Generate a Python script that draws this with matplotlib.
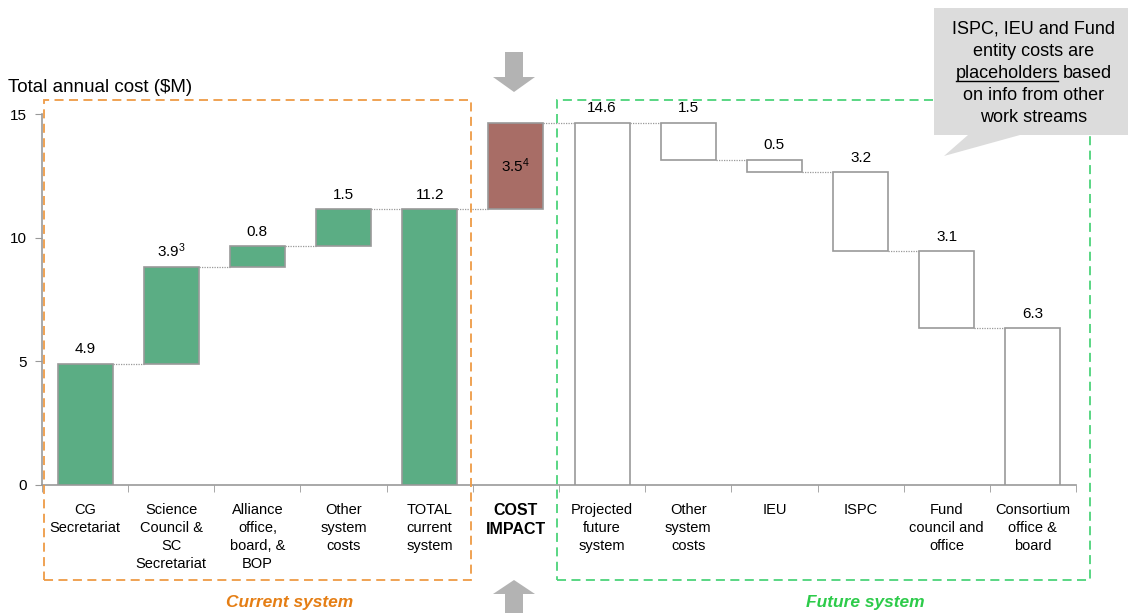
import matplotlib
matplotlib.use("Agg")
import matplotlib.pyplot as plt
from matplotlib.patches import Rectangle, Polygon
import numpy as np

plt.rcParams['font.family'] = ['Liberation Sans', 'DejaVu Sans']
plt.rcParams['mathtext.fontset'] = 'custom'
plt.rcParams['mathtext.rm'] = 'Liberation Sans'
plt.rcParams['mathtext.it'] = 'Liberation Sans:italic'
plt.rcParams['mathtext.bf'] = 'Liberation Sans:bold'

# ---- data ----
categories = ["CG\nSecretariat", "Science\nCouncil &\nSC\nSecretariat",
              "Alliance\noffice,\nboard, &\nBOP", "Other\nsystem\ncosts",
              "TOTAL\ncurrent\nsystem", "COST\nIMPACT", "Projected\nfuture\nsystem",
              "Other\nsystem\ncosts", "IEU", "ISPC", "Fund\ncouncil and\noffice",
              "Consortium\noffice &\nboard"]
values = [4.9, 3.9, 0.85, 1.5, 0, 3.5, 0, -1.5, -0.5, -3.2, -3.1, 0]
kinds = ['d', 'd', 'd', 'd', 't', 'd', 't', 'd', 'd', 'd', 'd', 't']
labels = ["4.9", r"3.9$^{3}$", "0.8", "1.5", "11.2", r"3.5$^{4}$", "14.6",
          "1.5", "0.5", "3.2", "3.1", "6.3"]
groups = ["current"] * 5 + ["impact"] + ["future"] * 6

colors = {"current": "#5BAD84", "impact": "#A86D66", "future": "#FFFFFF"}
edge = "#999999"

W, H = 1128, 613
fig = plt.figure(figsize=(W / 100, H / 100), dpi=100)
ax = fig.add_axes([42 / W, 1 - 485 / H, (1076 - 42) / W, (485 - 114) / H])

x = np.arange(len(categories))
bottoms, tops = [], []
run = 0.0
for v, k in zip(values, kinds):
    if k == 't':
        bottoms.append(0.0)
        tops.append(run)
    else:
        new = run + v
        bottoms.append(min(run, new))
        tops.append(max(run, new))
        run = new
ends = []
run = 0.0
for v, k in zip(values, kinds):
    if k == 'd':
        run += v
    ends.append(run)

bw = 0.64
heights = [t - b for t, b in zip(tops, bottoms)]
ax.bar(x, heights, bottom=bottoms, width=bw,
       color=[colors[g] for g in groups], edgecolor=edge, linewidth=1.2, zorder=3)

# connectors
for i in range(len(x) - 1):
    lvl = ends[i]
    ax.plot([x[i] + bw / 2, x[i + 1] - bw / 2], [lvl, lvl], ls=(0, (1, 1)),
            color="#999999", lw=0.9, zorder=2)

# value labels
for i, (lab, t, b) in enumerate(zip(labels, tops, bottoms)):
    if groups[i] == "impact":
        ax.text(x[i], (t + b) / 2, lab, ha='center', va='center', fontsize=11, zorder=4)
    else:
        ax.text(x[i], t + 0.3, lab, ha='center', va='bottom', fontsize=11, zorder=4)

ax.set_xlim(-0.5, len(x) - 0.5)
ax.set_ylim(0, 15)
ax.set_yticks([0, 5, 10, 15])
ax.set_xticks(x)
ax.set_xticklabels(categories, fontsize=10.5, linespacing=1.35, va='top')
for i, t in enumerate(ax.get_xticklabels()):
    if groups[i] == "impact":
        t.set_fontweight('bold')
        t.set_fontsize(11.5)
ax.tick_params(axis='x', which='major', length=0, pad=13)
ax.set_xticks(np.arange(-0.5, len(x)), minor=True)
ax.tick_params(axis='x', which='minor', length=5, color=edge, direction='out')
ax.tick_params(axis='y', length=5, color=edge, labelsize=11, pad=6)
for s in ['top', 'right']:
    ax.spines[s].set_visible(False)
for s in ['left', 'bottom']:
    ax.spines[s].set_color(edge)
    ax.spines[s].set_linewidth(1.2)

fig.text(8 / W, 1 - 88 / H, "Total annual cost ($M)", fontsize=13.5, va='center', ha='left')

def fx(px):
    return px / W

def fy(py):
    return 1 - py / H

# dashed group boxes
fig.patches.append(Rectangle((fx(44), fy(580)), fx(471) - fx(44), fy(100) - fy(580),
                             fill=False, ls=(0, (5, 3)), lw=1.3, edgecolor="#EE9B45",
                             transform=fig.transFigure, zorder=1))
fig.patches.append(Rectangle((fx(557), fy(580)), fx(1090) - fx(557), fy(100) - fy(580),
                             fill=False, ls=(0, (5, 3)), lw=1.3, edgecolor="#4CD37A",
                             transform=fig.transFigure, zorder=1))
fig.text(fx(290), fy(603), "Current system", color="#E57E14", fontsize=12.5,
         fontweight='bold', fontstyle='italic', ha='center', va='center')
fig.text(fx(865), fy(603), "Future system", color="#2DCB4A", fontsize=12.5,
         fontweight='bold', fontstyle='italic', ha='center', va='center')

# arrows
gray = "#B3B3B3"
cx = 514
down = [(cx - 9, 52), (cx + 9, 52), (cx + 9, 77), (cx + 21, 77), (cx, 92),
        (cx - 21, 77), (cx - 9, 77)]
fig.patches.append(Polygon([(fx(a), fy(b)) for a, b in down], closed=True,
                           facecolor=gray, edgecolor='none', transform=fig.transFigure))
up = [(cx - 9, 613), (cx + 9, 613), (cx + 9, 594), (cx + 21, 594), (cx, 580),
      (cx - 21, 594), (cx - 9, 594)]
fig.patches.append(Polygon([(fx(a), fy(b)) for a, b in up], closed=True,
                           facecolor=gray, edgecolor='none', transform=fig.transFigure))

# callout
callout = [(934, 8), (1128, 8), (1128, 135), (1020, 135), (944, 156), (968, 135), (934, 135)]
fig.patches.append(Polygon([(fx(a), fy(b)) for a, b in callout], closed=True,
                           facecolor="#DCDCDC", edgecolor='none', transform=fig.transFigure))
cx2 = 1034
cfs = 13
lines = ["ISPC, IEU and Fund", "entity costs are", None, "on info from other", "work streams"]
ys = [29, 51, 73, 95, 117]
for ln, yy in zip(lines, ys):
    if ln is not None:
        fig.text(fx(cx2), fy(yy), ln, fontsize=cfs, ha='center', va='center')

fig.canvas.draw()
r = fig.canvas.get_renderer()
tmp = fig.text(fx(cx2), fy(73), "placeholders based", fontsize=cfs, ha='center', va='center')
bb = tmp.get_window_extent(r)
tmp.remove()
t1 = fig.text(bb.x0 / W, fy(73), "placeholders", fontsize=cfs, ha='left', va='center')
fig.text(bb.x1 / W, fy(73), "based", fontsize=cfs, ha='right', va='center')
b1 = t1.get_window_extent(r)
fig.add_artist(plt.Line2D([b1.x0 / W, b1.x1 / W], [(b1.y0 + 1) / H, (b1.y0 + 1) / H],
                          color='black', lw=1.0, transform=fig.transFigure))

fig.savefig("out.png", dpi=100)
